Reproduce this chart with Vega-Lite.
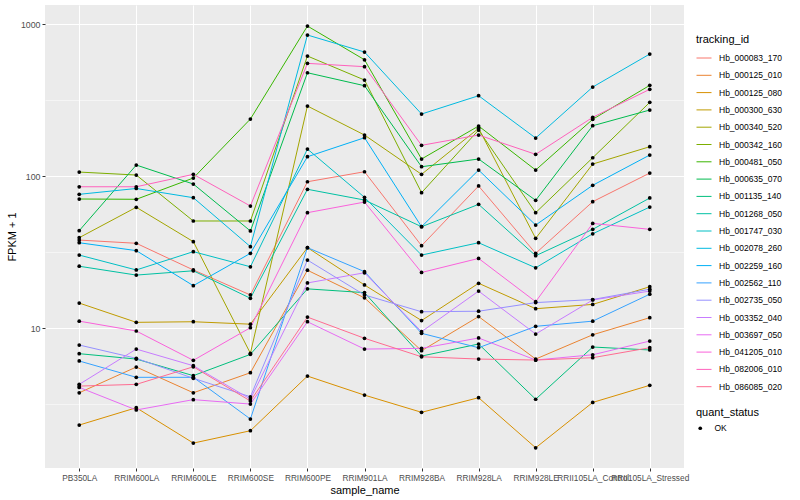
{
"$schema": "https://vega.github.io/schema/vega-lite/v6.json",
"width": 639,
"height": 463,
"autosize": {"type": "none"},
"padding": {"left": 45, "top": 5, "right": 116, "bottom": 32},
"background": "white",
"config": {
  "view": {"fill": "#EBEBEB", "stroke": null},
  "font": "Liberation Sans"
},
"data": {"values": [
{"tracking_id":"Hb_000083_170","sample_name":"PB350LA","fpkm":37.9,"quant_status":"OK"},
{"tracking_id":"Hb_000083_170","sample_name":"RRIM600LA","fpkm":36.1,"quant_status":"OK"},
{"tracking_id":"Hb_000083_170","sample_name":"RRIM600LE","fpkm":24.1,"quant_status":"OK"},
{"tracking_id":"Hb_000083_170","sample_name":"RRIM600SE","fpkm":16.5,"quant_status":"OK"},
{"tracking_id":"Hb_000083_170","sample_name":"RRIM600PE","fpkm":91.7,"quant_status":"OK"},
{"tracking_id":"Hb_000083_170","sample_name":"RRIM901LA","fpkm":106.7,"quant_status":"OK"},
{"tracking_id":"Hb_000083_170","sample_name":"RRIM928BA","fpkm":34.8,"quant_status":"OK"},
{"tracking_id":"Hb_000083_170","sample_name":"RRIM928LA","fpkm":86.0,"quant_status":"OK"},
{"tracking_id":"Hb_000083_170","sample_name":"RRIM928LE","fpkm":31.0,"quant_status":"OK"},
{"tracking_id":"Hb_000083_170","sample_name":"RRII105LA_Control","fpkm":67.8,"quant_status":"OK"},
{"tracking_id":"Hb_000083_170","sample_name":"RRII105LA_Stressed","fpkm":104.6,"quant_status":"OK"},
{"tracking_id":"Hb_000125_010","sample_name":"PB350LA","fpkm":3.75,"quant_status":"OK"},
{"tracking_id":"Hb_000125_010","sample_name":"RRIM600LA","fpkm":5.54,"quant_status":"OK"},
{"tracking_id":"Hb_000125_010","sample_name":"RRIM600LE","fpkm":3.75,"quant_status":"OK"},
{"tracking_id":"Hb_000125_010","sample_name":"RRIM600SE","fpkm":5.08,"quant_status":"OK"},
{"tracking_id":"Hb_000125_010","sample_name":"RRIM600PE","fpkm":24.0,"quant_status":"OK"},
{"tracking_id":"Hb_000125_010","sample_name":"RRIM901LA","fpkm":15.8,"quant_status":"OK"},
{"tracking_id":"Hb_000125_010","sample_name":"RRIM928BA","fpkm":7.09,"quant_status":"OK"},
{"tracking_id":"Hb_000125_010","sample_name":"RRIM928LA","fpkm":11.9,"quant_status":"OK"},
{"tracking_id":"Hb_000125_010","sample_name":"RRIM928LE","fpkm":6.25,"quant_status":"OK"},
{"tracking_id":"Hb_000125_010","sample_name":"RRII105LA_Control","fpkm":9.03,"quant_status":"OK"},
{"tracking_id":"Hb_000125_010","sample_name":"RRII105LA_Stressed","fpkm":11.7,"quant_status":"OK"},
{"tracking_id":"Hb_000125_080","sample_name":"PB350LA","fpkm":2.30,"quant_status":"OK"},
{"tracking_id":"Hb_000125_080","sample_name":"RRIM600LA","fpkm":2.99,"quant_status":"OK"},
{"tracking_id":"Hb_000125_080","sample_name":"RRIM600LE","fpkm":1.75,"quant_status":"OK"},
{"tracking_id":"Hb_000125_080","sample_name":"RRIM600SE","fpkm":2.11,"quant_status":"OK"},
{"tracking_id":"Hb_000125_080","sample_name":"RRIM600PE","fpkm":4.83,"quant_status":"OK"},
{"tracking_id":"Hb_000125_080","sample_name":"RRIM901LA","fpkm":3.62,"quant_status":"OK"},
{"tracking_id":"Hb_000125_080","sample_name":"RRIM928BA","fpkm":2.79,"quant_status":"OK"},
{"tracking_id":"Hb_000125_080","sample_name":"RRIM928LA","fpkm":3.48,"quant_status":"OK"},
{"tracking_id":"Hb_000125_080","sample_name":"RRIM928LE","fpkm":1.63,"quant_status":"OK"},
{"tracking_id":"Hb_000125_080","sample_name":"RRII105LA_Control","fpkm":3.24,"quant_status":"OK"},
{"tracking_id":"Hb_000125_080","sample_name":"RRII105LA_Stressed","fpkm":4.20,"quant_status":"OK"},
{"tracking_id":"Hb_000300_630","sample_name":"PB350LA","fpkm":14.6,"quant_status":"OK"},
{"tracking_id":"Hb_000300_630","sample_name":"RRIM600LA","fpkm":10.9,"quant_status":"OK"},
{"tracking_id":"Hb_000300_630","sample_name":"RRIM600LE","fpkm":11.0,"quant_status":"OK"},
{"tracking_id":"Hb_000300_630","sample_name":"RRIM600SE","fpkm":10.6,"quant_status":"OK"},
{"tracking_id":"Hb_000300_630","sample_name":"RRIM600PE","fpkm":33.8,"quant_status":"OK"},
{"tracking_id":"Hb_000300_630","sample_name":"RRIM901LA","fpkm":19.2,"quant_status":"OK"},
{"tracking_id":"Hb_000300_630","sample_name":"RRIM928BA","fpkm":11.2,"quant_status":"OK"},
{"tracking_id":"Hb_000300_630","sample_name":"RRIM928LA","fpkm":19.7,"quant_status":"OK"},
{"tracking_id":"Hb_000300_630","sample_name":"RRIM928LE","fpkm":13.4,"quant_status":"OK"},
{"tracking_id":"Hb_000300_630","sample_name":"RRII105LA_Control","fpkm":14.3,"quant_status":"OK"},
{"tracking_id":"Hb_000300_630","sample_name":"RRII105LA_Stressed","fpkm":18.7,"quant_status":"OK"},
{"tracking_id":"Hb_000340_520","sample_name":"PB350LA","fpkm":39.3,"quant_status":"OK"},
{"tracking_id":"Hb_000340_520","sample_name":"RRIM600LA","fpkm":62.3,"quant_status":"OK"},
{"tracking_id":"Hb_000340_520","sample_name":"RRIM600LE","fpkm":37.0,"quant_status":"OK"},
{"tracking_id":"Hb_000340_520","sample_name":"RRIM600SE","fpkm":6.82,"quant_status":"OK"},
{"tracking_id":"Hb_000340_520","sample_name":"RRIM600PE","fpkm":288.8,"quant_status":"OK"},
{"tracking_id":"Hb_000340_520","sample_name":"RRIM901LA","fpkm":186.1,"quant_status":"OK"},
{"tracking_id":"Hb_000340_520","sample_name":"RRIM928BA","fpkm":102.6,"quant_status":"OK"},
{"tracking_id":"Hb_000340_520","sample_name":"RRIM928LA","fpkm":206,"quant_status":"OK"},
{"tracking_id":"Hb_000340_520","sample_name":"RRIM928LE","fpkm":38.9,"quant_status":"OK"},
{"tracking_id":"Hb_000340_520","sample_name":"RRII105LA_Control","fpkm":119.9,"quant_status":"OK"},
{"tracking_id":"Hb_000340_520","sample_name":"RRII105LA_Stressed","fpkm":155.9,"quant_status":"OK"},
{"tracking_id":"Hb_000342_160","sample_name":"PB350LA","fpkm":106.2,"quant_status":"OK"},
{"tracking_id":"Hb_000342_160","sample_name":"RRIM600LA","fpkm":101.5,"quant_status":"OK"},
{"tracking_id":"Hb_000342_160","sample_name":"RRIM600LE","fpkm":50.6,"quant_status":"OK"},
{"tracking_id":"Hb_000342_160","sample_name":"RRIM600SE","fpkm":50.6,"quant_status":"OK"},
{"tracking_id":"Hb_000342_160","sample_name":"RRIM600PE","fpkm":615.8,"quant_status":"OK"},
{"tracking_id":"Hb_000342_160","sample_name":"RRIM901LA","fpkm":428.1,"quant_status":"OK"},
{"tracking_id":"Hb_000342_160","sample_name":"RRIM928BA","fpkm":77.7,"quant_status":"OK"},
{"tracking_id":"Hb_000342_160","sample_name":"RRIM928LA","fpkm":200.7,"quant_status":"OK"},
{"tracking_id":"Hb_000342_160","sample_name":"RRIM928LE","fpkm":57.4,"quant_status":"OK"},
{"tracking_id":"Hb_000342_160","sample_name":"RRII105LA_Control","fpkm":131.9,"quant_status":"OK"},
{"tracking_id":"Hb_000342_160","sample_name":"RRII105LA_Stressed","fpkm":305.4,"quant_status":"OK"},
{"tracking_id":"Hb_000481_050","sample_name":"PB350LA","fpkm":70.6,"quant_status":"OK"},
{"tracking_id":"Hb_000481_050","sample_name":"RRIM600LA","fpkm":70.3,"quant_status":"OK"},
{"tracking_id":"Hb_000481_050","sample_name":"RRIM600LE","fpkm":97.0,"quant_status":"OK"},
{"tracking_id":"Hb_000481_050","sample_name":"RRIM600SE","fpkm":237.1,"quant_status":"OK"},
{"tracking_id":"Hb_000481_050","sample_name":"RRIM600PE","fpkm":970,"quant_status":"OK"},
{"tracking_id":"Hb_000481_050","sample_name":"RRIM901LA","fpkm":582,"quant_status":"OK"},
{"tracking_id":"Hb_000481_050","sample_name":"RRIM928BA","fpkm":129.4,"quant_status":"OK"},
{"tracking_id":"Hb_000481_050","sample_name":"RRIM928LA","fpkm":213.3,"quant_status":"OK"},
{"tracking_id":"Hb_000481_050","sample_name":"RRIM928LE","fpkm":109.5,"quant_status":"OK"},
{"tracking_id":"Hb_000481_050","sample_name":"RRII105LA_Control","fpkm":236.1,"quant_status":"OK"},
{"tracking_id":"Hb_000481_050","sample_name":"RRII105LA_Stressed","fpkm":395.1,"quant_status":"OK"},
{"tracking_id":"Hb_000635_070","sample_name":"PB350LA","fpkm":43.7,"quant_status":"OK"},
{"tracking_id":"Hb_000635_070","sample_name":"RRIM600LA","fpkm":118.1,"quant_status":"OK"},
{"tracking_id":"Hb_000635_070","sample_name":"RRIM600LE","fpkm":88.6,"quant_status":"OK"},
{"tracking_id":"Hb_000635_070","sample_name":"RRIM600SE","fpkm":43.5,"quant_status":"OK"},
{"tracking_id":"Hb_000635_070","sample_name":"RRIM600PE","fpkm":478,"quant_status":"OK"},
{"tracking_id":"Hb_000635_070","sample_name":"RRIM901LA","fpkm":392.8,"quant_status":"OK"},
{"tracking_id":"Hb_000635_070","sample_name":"RRIM928BA","fpkm":115.1,"quant_status":"OK"},
{"tracking_id":"Hb_000635_070","sample_name":"RRIM928LA","fpkm":129.4,"quant_status":"OK"},
{"tracking_id":"Hb_000635_070","sample_name":"RRIM928LE","fpkm":69.2,"quant_status":"OK"},
{"tracking_id":"Hb_000635_070","sample_name":"RRII105LA_Control","fpkm":214.2,"quant_status":"OK"},
{"tracking_id":"Hb_000635_070","sample_name":"RRII105LA_Stressed","fpkm":271.8,"quant_status":"OK"},
{"tracking_id":"Hb_001135_140","sample_name":"PB350LA","fpkm":6.78,"quant_status":"OK"},
{"tracking_id":"Hb_001135_140","sample_name":"RRIM600LA","fpkm":6.25,"quant_status":"OK"},
{"tracking_id":"Hb_001135_140","sample_name":"RRIM600LE","fpkm":4.86,"quant_status":"OK"},
{"tracking_id":"Hb_001135_140","sample_name":"RRIM600SE","fpkm":6.71,"quant_status":"OK"},
{"tracking_id":"Hb_001135_140","sample_name":"RRIM600PE","fpkm":18.1,"quant_status":"OK"},
{"tracking_id":"Hb_001135_140","sample_name":"RRIM901LA","fpkm":17.1,"quant_status":"OK"},
{"tracking_id":"Hb_001135_140","sample_name":"RRIM928BA","fpkm":6.54,"quant_status":"OK"},
{"tracking_id":"Hb_001135_140","sample_name":"RRIM928LA","fpkm":7.85,"quant_status":"OK"},
{"tracking_id":"Hb_001135_140","sample_name":"RRIM928LE","fpkm":3.40,"quant_status":"OK"},
{"tracking_id":"Hb_001135_140","sample_name":"RRII105LA_Control","fpkm":7.50,"quant_status":"OK"},
{"tracking_id":"Hb_001135_140","sample_name":"RRII105LA_Stressed","fpkm":7.17,"quant_status":"OK"},
{"tracking_id":"Hb_001268_050","sample_name":"PB350LA","fpkm":25.5,"quant_status":"OK"},
{"tracking_id":"Hb_001268_050","sample_name":"RRIM600LA","fpkm":22.3,"quant_status":"OK"},
{"tracking_id":"Hb_001268_050","sample_name":"RRIM600LE","fpkm":23.8,"quant_status":"OK"},
{"tracking_id":"Hb_001268_050","sample_name":"RRIM600SE","fpkm":15.7,"quant_status":"OK"},
{"tracking_id":"Hb_001268_050","sample_name":"RRIM600PE","fpkm":81.8,"quant_status":"OK"},
{"tracking_id":"Hb_001268_050","sample_name":"RRIM901LA","fpkm":69.5,"quant_status":"OK"},
{"tracking_id":"Hb_001268_050","sample_name":"RRIM928BA","fpkm":46.4,"quant_status":"OK"},
{"tracking_id":"Hb_001268_050","sample_name":"RRIM928LA","fpkm":65.1,"quant_status":"OK"},
{"tracking_id":"Hb_001268_050","sample_name":"RRIM928LE","fpkm":29.9,"quant_status":"OK"},
{"tracking_id":"Hb_001268_050","sample_name":"RRII105LA_Control","fpkm":44.6,"quant_status":"OK"},
{"tracking_id":"Hb_001268_050","sample_name":"RRII105LA_Stressed","fpkm":71.7,"quant_status":"OK"},
{"tracking_id":"Hb_001747_030","sample_name":"PB350LA","fpkm":30.2,"quant_status":"OK"},
{"tracking_id":"Hb_001747_030","sample_name":"RRIM600LA","fpkm":24.1,"quant_status":"OK"},
{"tracking_id":"Hb_001747_030","sample_name":"RRIM600LE","fpkm":31.8,"quant_status":"OK"},
{"tracking_id":"Hb_001747_030","sample_name":"RRIM600SE","fpkm":25.3,"quant_status":"OK"},
{"tracking_id":"Hb_001747_030","sample_name":"RRIM600PE","fpkm":150.5,"quant_status":"OK"},
{"tracking_id":"Hb_001747_030","sample_name":"RRIM901LA","fpkm":72.4,"quant_status":"OK"},
{"tracking_id":"Hb_001747_030","sample_name":"RRIM928BA","fpkm":30.2,"quant_status":"OK"},
{"tracking_id":"Hb_001747_030","sample_name":"RRIM928LA","fpkm":36.4,"quant_status":"OK"},
{"tracking_id":"Hb_001747_030","sample_name":"RRIM928LE","fpkm":24.9,"quant_status":"OK"},
{"tracking_id":"Hb_001747_030","sample_name":"RRII105LA_Control","fpkm":41.7,"quant_status":"OK"},
{"tracking_id":"Hb_001747_030","sample_name":"RRII105LA_Stressed","fpkm":62.5,"quant_status":"OK"},
{"tracking_id":"Hb_002078_260","sample_name":"PB350LA","fpkm":75.8,"quant_status":"OK"},
{"tracking_id":"Hb_002078_260","sample_name":"RRIM600LA","fpkm":82.8,"quant_status":"OK"},
{"tracking_id":"Hb_002078_260","sample_name":"RRIM600LE","fpkm":72.0,"quant_status":"OK"},
{"tracking_id":"Hb_002078_260","sample_name":"RRIM600SE","fpkm":34.3,"quant_status":"OK"},
{"tracking_id":"Hb_002078_260","sample_name":"RRIM600PE","fpkm":846.6,"quant_status":"OK"},
{"tracking_id":"Hb_002078_260","sample_name":"RRIM901LA","fpkm":654.3,"quant_status":"OK"},
{"tracking_id":"Hb_002078_260","sample_name":"RRIM928BA","fpkm":255.8,"quant_status":"OK"},
{"tracking_id":"Hb_002078_260","sample_name":"RRIM928LA","fpkm":337.5,"quant_status":"OK"},
{"tracking_id":"Hb_002078_260","sample_name":"RRIM928LE","fpkm":177.8,"quant_status":"OK"},
{"tracking_id":"Hb_002078_260","sample_name":"RRII105LA_Control","fpkm":385,"quant_status":"OK"},
{"tracking_id":"Hb_002078_260","sample_name":"RRII105LA_Stressed","fpkm":634.8,"quant_status":"OK"},
{"tracking_id":"Hb_002259_160","sample_name":"PB350LA","fpkm":36.4,"quant_status":"OK"},
{"tracking_id":"Hb_002259_160","sample_name":"RRIM600LA","fpkm":32.3,"quant_status":"OK"},
{"tracking_id":"Hb_002259_160","sample_name":"RRIM600LE","fpkm":19.0,"quant_status":"OK"},
{"tracking_id":"Hb_002259_160","sample_name":"RRIM600SE","fpkm":31.0,"quant_status":"OK"},
{"tracking_id":"Hb_002259_160","sample_name":"RRIM600PE","fpkm":134.0,"quant_status":"OK"},
{"tracking_id":"Hb_002259_160","sample_name":"RRIM901LA","fpkm":178.6,"quant_status":"OK"},
{"tracking_id":"Hb_002259_160","sample_name":"RRIM928BA","fpkm":46.4,"quant_status":"OK"},
{"tracking_id":"Hb_002259_160","sample_name":"RRIM928LA","fpkm":109.5,"quant_status":"OK"},
{"tracking_id":"Hb_002259_160","sample_name":"RRIM928LE","fpkm":47.6,"quant_status":"OK"},
{"tracking_id":"Hb_002259_160","sample_name":"RRII105LA_Control","fpkm":86.9,"quant_status":"OK"},
{"tracking_id":"Hb_002259_160","sample_name":"RRII105LA_Stressed","fpkm":137.5,"quant_status":"OK"},
{"tracking_id":"Hb_002562_110","sample_name":"PB350LA","fpkm":6.07,"quant_status":"OK"},
{"tracking_id":"Hb_002562_110","sample_name":"RRIM600LA","fpkm":4.74,"quant_status":"OK"},
{"tracking_id":"Hb_002562_110","sample_name":"RRIM600LE","fpkm":4.74,"quant_status":"OK"},
{"tracking_id":"Hb_002562_110","sample_name":"RRIM600SE","fpkm":2.52,"quant_status":"OK"},
{"tracking_id":"Hb_002562_110","sample_name":"RRIM600PE","fpkm":33.8,"quant_status":"OK"},
{"tracking_id":"Hb_002562_110","sample_name":"RRIM901LA","fpkm":23.5,"quant_status":"OK"},
{"tracking_id":"Hb_002562_110","sample_name":"RRIM928BA","fpkm":9.23,"quant_status":"OK"},
{"tracking_id":"Hb_002562_110","sample_name":"RRIM928LA","fpkm":7.42,"quant_status":"OK"},
{"tracking_id":"Hb_002562_110","sample_name":"RRIM928LE","fpkm":10.26,"quant_status":"OK"},
{"tracking_id":"Hb_002562_110","sample_name":"RRII105LA_Control","fpkm":11.1,"quant_status":"OK"},
{"tracking_id":"Hb_002562_110","sample_name":"RRII105LA_Stressed","fpkm":16.7,"quant_status":"OK"},
{"tracking_id":"Hb_002735_050","sample_name":"PB350LA","fpkm":7.73,"quant_status":"OK"},
{"tracking_id":"Hb_002735_050","sample_name":"RRIM600LA","fpkm":6.32,"quant_status":"OK"},
{"tracking_id":"Hb_002735_050","sample_name":"RRIM600LE","fpkm":4.67,"quant_status":"OK"},
{"tracking_id":"Hb_002735_050","sample_name":"RRIM600SE","fpkm":3.53,"quant_status":"OK"},
{"tracking_id":"Hb_002735_050","sample_name":"RRIM600PE","fpkm":28.0,"quant_status":"OK"},
{"tracking_id":"Hb_002735_050","sample_name":"RRIM901LA","fpkm":16.5,"quant_status":"OK"},
{"tracking_id":"Hb_002735_050","sample_name":"RRIM928BA","fpkm":12.8,"quant_status":"OK"},
{"tracking_id":"Hb_002735_050","sample_name":"RRIM928LA","fpkm":12.9,"quant_status":"OK"},
{"tracking_id":"Hb_002735_050","sample_name":"RRIM928LE","fpkm":14.7,"quant_status":"OK"},
{"tracking_id":"Hb_002735_050","sample_name":"RRII105LA_Control","fpkm":15.4,"quant_status":"OK"},
{"tracking_id":"Hb_002735_050","sample_name":"RRII105LA_Stressed","fpkm":18.0,"quant_status":"OK"},
{"tracking_id":"Hb_003352_040","sample_name":"PB350LA","fpkm":4.26,"quant_status":"OK"},
{"tracking_id":"Hb_003352_040","sample_name":"RRIM600LA","fpkm":7.27,"quant_status":"OK"},
{"tracking_id":"Hb_003352_040","sample_name":"RRIM600LE","fpkm":5.65,"quant_status":"OK"},
{"tracking_id":"Hb_003352_040","sample_name":"RRIM600SE","fpkm":3.41,"quant_status":"OK"},
{"tracking_id":"Hb_003352_040","sample_name":"RRIM600PE","fpkm":19.8,"quant_status":"OK"},
{"tracking_id":"Hb_003352_040","sample_name":"RRIM901LA","fpkm":23.1,"quant_status":"OK"},
{"tracking_id":"Hb_003352_040","sample_name":"RRIM928BA","fpkm":9.46,"quant_status":"OK"},
{"tracking_id":"Hb_003352_040","sample_name":"RRIM928LA","fpkm":17.5,"quant_status":"OK"},
{"tracking_id":"Hb_003352_040","sample_name":"RRIM928LE","fpkm":9.13,"quant_status":"OK"},
{"tracking_id":"Hb_003352_040","sample_name":"RRII105LA_Control","fpkm":15.3,"quant_status":"OK"},
{"tracking_id":"Hb_003352_040","sample_name":"RRII105LA_Stressed","fpkm":17.5,"quant_status":"OK"},
{"tracking_id":"Hb_003697_050","sample_name":"PB350LA","fpkm":4.07,"quant_status":"OK"},
{"tracking_id":"Hb_003697_050","sample_name":"RRIM600LA","fpkm":2.89,"quant_status":"OK"},
{"tracking_id":"Hb_003697_050","sample_name":"RRIM600LE","fpkm":3.38,"quant_status":"OK"},
{"tracking_id":"Hb_003697_050","sample_name":"RRIM600SE","fpkm":3.16,"quant_status":"OK"},
{"tracking_id":"Hb_003697_050","sample_name":"RRIM600PE","fpkm":11.0,"quant_status":"OK"},
{"tracking_id":"Hb_003697_050","sample_name":"RRIM901LA","fpkm":7.27,"quant_status":"OK"},
{"tracking_id":"Hb_003697_050","sample_name":"RRIM928BA","fpkm":7.35,"quant_status":"OK"},
{"tracking_id":"Hb_003697_050","sample_name":"RRIM928LA","fpkm":8.60,"quant_status":"OK"},
{"tracking_id":"Hb_003697_050","sample_name":"RRIM928LE","fpkm":6.16,"quant_status":"OK"},
{"tracking_id":"Hb_003697_050","sample_name":"RRII105LA_Control","fpkm":6.67,"quant_status":"OK"},
{"tracking_id":"Hb_003697_050","sample_name":"RRII105LA_Stressed","fpkm":8.21,"quant_status":"OK"},
{"tracking_id":"Hb_041205_010","sample_name":"PB350LA","fpkm":11.1,"quant_status":"OK"},
{"tracking_id":"Hb_041205_010","sample_name":"RRIM600LA","fpkm":9.56,"quant_status":"OK"},
{"tracking_id":"Hb_041205_010","sample_name":"RRIM600LE","fpkm":6.13,"quant_status":"OK"},
{"tracking_id":"Hb_041205_010","sample_name":"RRIM600SE","fpkm":10.05,"quant_status":"OK"},
{"tracking_id":"Hb_041205_010","sample_name":"RRIM600PE","fpkm":57.4,"quant_status":"OK"},
{"tracking_id":"Hb_041205_010","sample_name":"RRIM901LA","fpkm":67.4,"quant_status":"OK"},
{"tracking_id":"Hb_041205_010","sample_name":"RRIM928BA","fpkm":23.2,"quant_status":"OK"},
{"tracking_id":"Hb_041205_010","sample_name":"RRIM928LA","fpkm":28.7,"quant_status":"OK"},
{"tracking_id":"Hb_041205_010","sample_name":"RRIM928LE","fpkm":14.9,"quant_status":"OK"},
{"tracking_id":"Hb_041205_010","sample_name":"RRII105LA_Control","fpkm":48.8,"quant_status":"OK"},
{"tracking_id":"Hb_041205_010","sample_name":"RRII105LA_Stressed","fpkm":44.6,"quant_status":"OK"},
{"tracking_id":"Hb_082006_010","sample_name":"PB350LA","fpkm":85.0,"quant_status":"OK"},
{"tracking_id":"Hb_082006_010","sample_name":"RRIM600LA","fpkm":85.0,"quant_status":"OK"},
{"tracking_id":"Hb_082006_010","sample_name":"RRIM600LE","fpkm":102.6,"quant_status":"OK"},
{"tracking_id":"Hb_082006_010","sample_name":"RRIM600SE","fpkm":63.5,"quant_status":"OK"},
{"tracking_id":"Hb_082006_010","sample_name":"RRIM600PE","fpkm":551,"quant_status":"OK"},
{"tracking_id":"Hb_082006_010","sample_name":"RRIM901LA","fpkm":524,"quant_status":"OK"},
{"tracking_id":"Hb_082006_010","sample_name":"RRIM928BA","fpkm":159.2,"quant_status":"OK"},
{"tracking_id":"Hb_082006_010","sample_name":"RRIM928LA","fpkm":186.1,"quant_status":"OK"},
{"tracking_id":"Hb_082006_010","sample_name":"RRIM928LE","fpkm":138.9,"quant_status":"OK"},
{"tracking_id":"Hb_082006_010","sample_name":"RRII105LA_Control","fpkm":243.4,"quant_status":"OK"},
{"tracking_id":"Hb_082006_010","sample_name":"RRII105LA_Stressed","fpkm":371.9,"quant_status":"OK"},
{"tracking_id":"Hb_086085_020","sample_name":"PB350LA","fpkm":4.15,"quant_status":"OK"},
{"tracking_id":"Hb_086085_020","sample_name":"RRIM600LA","fpkm":4.26,"quant_status":"OK"},
{"tracking_id":"Hb_086085_020","sample_name":"RRIM600LE","fpkm":5.56,"quant_status":"OK"},
{"tracking_id":"Hb_086085_020","sample_name":"RRIM600SE","fpkm":3.31,"quant_status":"OK"},
{"tracking_id":"Hb_086085_020","sample_name":"RRIM600PE","fpkm":11.8,"quant_status":"OK"},
{"tracking_id":"Hb_086085_020","sample_name":"RRIM901LA","fpkm":8.56,"quant_status":"OK"},
{"tracking_id":"Hb_086085_020","sample_name":"RRIM928BA","fpkm":6.47,"quant_status":"OK"},
{"tracking_id":"Hb_086085_020","sample_name":"RRIM928LA","fpkm":6.25,"quant_status":"OK"},
{"tracking_id":"Hb_086085_020","sample_name":"RRIM928LE","fpkm":6.16,"quant_status":"OK"},
{"tracking_id":"Hb_086085_020","sample_name":"RRII105LA_Control","fpkm":6.38,"quant_status":"OK"},
{"tracking_id":"Hb_086085_020","sample_name":"RRII105LA_Stressed","fpkm":7.42,"quant_status":"OK"}
]},
"encoding": {
  "x": {
    "field": "sample_name", "type": "nominal",
    "sort": ["PB350LA","RRIM600LA","RRIM600LE","RRIM600SE","RRIM600PE","RRIM901LA","RRIM928BA","RRIM928LA","RRIM928LE","RRII105LA_Control","RRII105LA_Stressed"],
    "scale": {"type": "point", "padding": 0.6},
    "axis": {
      "title": "sample_name", "titleFontSize": 11, "titleFontWeight": "normal", "titleColor": "black", "titlePadding": 3,
      "labelAngle": 0, "labelFontSize": 8.3, "labelColor": "#4D4D4D", "labelOverlap": false, "labelLimit": 0, "labelPadding": 2,
      "tickSize": 3, "tickColor": "#333333", "tickWidth": 1, "domain": false,
      "grid": true, "gridColor": "white", "gridWidth": 1.07
    }
  },
  "y": {
    "field": "fpkm", "type": "quantitative",
    "scale": {"type": "log", "domain": [1.2, 1334], "nice": false, "zero": false},
    "axis": {
      "title": "FPKM + 1", "titleFontSize": 11, "titleFontWeight": "normal", "titleColor": "black", "titlePadding": 3,
      "values": [3.1623, 10, 31.623, 100, 316.23, 1000],
      "labelExpr": "datum.value == 10 ? '10' : datum.value == 100 ? '100' : datum.value == 1000 ? '1000' : ''",
      "labelFontSize": 8.8, "labelColor": "#4D4D4D", "labelPadding": 2,
      "tickSize": 3, "tickWidth": 1,
      "tickColor": {"condition": {"test": "datum.value == 10 || datum.value == 100 || datum.value == 1000", "value": "#333333"}, "value": "transparent"},
      "domain": false,
      "grid": true, "gridColor": "white",
      "gridWidth": {"condition": {"test": "datum.value == 10 || datum.value == 100 || datum.value == 1000", "value": 1.07}, "value": 0.53}
    }
  }
},
"layer": [
  {
    "mark": {"type": "line", "strokeWidth": 1},
    "encoding": {
      "order": {"value": null},
      "color": {
        "field": "tracking_id", "type": "nominal",
        "scale": {
          "domain": ["Hb_000083_170","Hb_000125_010","Hb_000125_080","Hb_000300_630","Hb_000340_520","Hb_000342_160","Hb_000481_050","Hb_000635_070","Hb_001135_140","Hb_001268_050","Hb_001747_030","Hb_002078_260","Hb_002259_160","Hb_002562_110","Hb_002735_050","Hb_003352_040","Hb_003697_050","Hb_041205_010","Hb_082006_010","Hb_086085_020"],
          "range": ["#F8766D","#EA8331","#D89000","#C09B00","#A3A500","#7CAE00","#39B600","#00BB4E","#00BF7D","#00C1A3","#00BFC4","#00BAE0","#00B0F6","#35A2FF","#9590FF","#C77CFF","#E76BF3","#FA62DB","#FF62BC","#FF6C91"]
        },
        "legend": {
          "orient": "none", "legendX": 651, "legendY": 29,
          "title": "tracking_id", "titleFontSize": 11, "titleFontWeight": "normal", "titleColor": "black", "titlePadding": 5,
          "symbolType": "stroke", "symbolStrokeWidth": 1, "symbolSize": 225,
          "labelFontSize": 8.5, "labelColor": "black", "labelOffset": 7, "rowPadding": 4.3
        }
      }
    }
  },
  {
    "mark": {"type": "point", "filled": true, "color": "black", "size": 14, "opacity": 1},
    "encoding": {
      "shape": {
        "field": "quant_status", "type": "nominal",
        "scale": {"range": ["circle"]},
        "legend": {
          "orient": "none", "legendX": 651, "legendY": 402,
          "title": "quant_status", "titleFontSize": 11, "titleFontWeight": "normal", "titleColor": "black", "titlePadding": 6,
          "symbolFillColor": "black", "symbolStrokeColor": "black", "symbolSize": 14, "symbolOpacity": 1,
          "labelFontSize": 8.5, "labelColor": "black", "labelOffset": 10
        }
      }
    }
  }
]
}
